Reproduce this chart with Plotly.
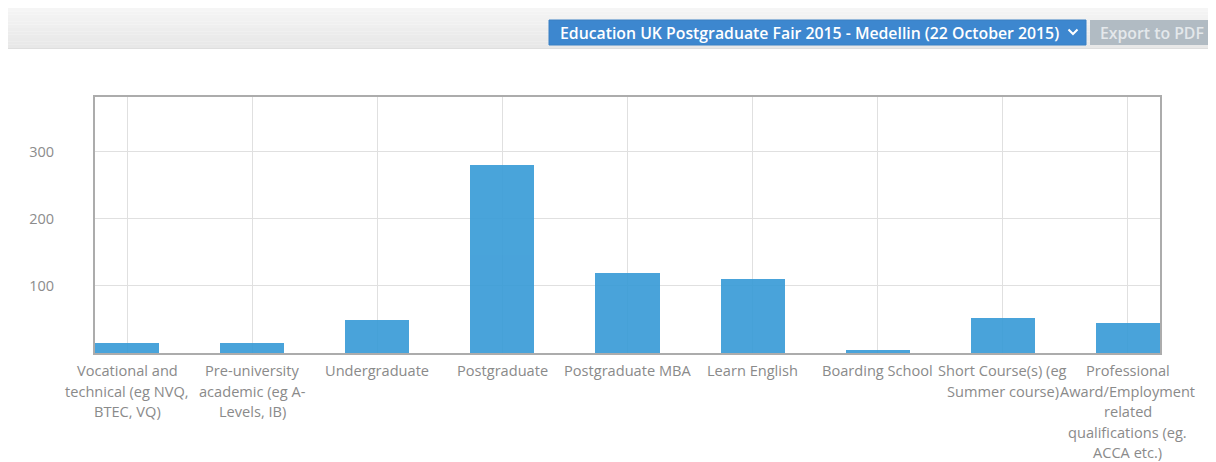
import plotly.graph_objects as go

categories = [
    "Vocational and<br>technical (eg NVQ,<br>BTEC, VQ)",
    "Pre-university<br>academic (eg A-<br>Levels, IB)",
    "Undergraduate",
    "Postgraduate",
    "Postgraduate MBA",
    "Learn English",
    "Boarding School",
    "Short Course(s) (eg<br>Summer course)",
    "Professional<br>Award/Employment<br>related<br>qualifications (eg.<br>ACCA etc.)",
]
values = [15, 15, 49, 280, 119, 110, 5, 52, 45]
y_ticks = [100, 200, 300]
dropdown_label = "Education UK Postgraduate Fair 2015 - Medellin (22 October 2015)"
export_label = "Export to PDF"

OFF = 8  # page body margin
W, H = 1216 - OFF, 462 - OFF
L, R, T, B = 95 - OFF, 1160 - OFF, 97 - OFF, 353 - OFF  # plot area in figure pixels


def px(x):
    return (x - OFF - L) / (R - L)


def py(y):
    return (B - (y - OFF)) / (B - T)


FONT = "Open Sans"
xs = list(range(len(categories)))

fig = go.Figure()
fig.add_trace(go.Bar(
    x=xs, y=values, width=0.512,
    marker=dict(color="#3a9cd7", line=dict(width=0)), opacity=0.92,
    hoverinfo="skip",
))

shapes = []
# header band gradient
top_c = (245, 245, 245)
bot_c = (232, 232, 232)
n = 12
y0, y1 = 8, 48
for i in range(n):
    a = y0 + (y1 - y0) * i / n
    b = y0 + (y1 - y0) * (i + 1) / n
    t = i / (n - 1)
    c = tuple(int(top_c[k] + (bot_c[k] - top_c[k]) * t) for k in range(3))
    shapes.append(dict(type="rect", xref="paper", yref="paper",
                       x0=px(7), x1=px(1216), y0=py(b), y1=py(a),
                       fillcolor="rgb(%d,%d,%d)" % c, line=dict(width=0), layer="below"))
shapes.append(dict(type="line", xref="paper", yref="paper", x0=px(7), x1=px(1216),
                   y0=py(48.5), y1=py(48.5), line=dict(color="#dedede", width=1)))
# dropdown button
shapes.append(dict(type="rect", xref="paper", yref="paper", x0=px(549), x1=px(1086),
                   y0=py(45), y1=py(20), fillcolor="#3d87cf", line=dict(color="#3a80c4", width=1)))
# chevron
cx, cy = 1073, 31.5
shapes.append(dict(type="path", xref="paper", yref="paper",
                   path="M %f %f L %f %f L %f %f" % (px(cx - 4.5), py(cy - 2), px(cx), py(cy + 2.5), px(cx + 4.5), py(cy - 2)),
                   line=dict(color="white", width=2)))
# export button
shapes.append(dict(type="rect", xref="paper", yref="paper", x0=px(1090), x1=px(1211),
                   y0=py(45), y1=py(20), fillcolor="#b1bbc3", line=dict(width=0)))

annotations = [
    dict(xref="paper", yref="paper", x=px(809.5), y=py(32.5), text=dropdown_label, showarrow=False,
         font=dict(family=FONT, size=15.8, color="white", weight=600), xanchor="center", yanchor="middle"),
    dict(xref="paper", yref="paper", x=px(1152), y=py(32.5), text=export_label, showarrow=False,
         font=dict(family=FONT, size=15.8, color="#e4e8eb", weight=600), xanchor="center", yanchor="middle"),
]
# category labels, one annotation per line for spacing control
for i, lab in enumerate(categories):
    for k, line in enumerate(lab.split("<br>")):
        annotations.append(dict(xref="x", yref="paper", x=i, y=0, yshift=-(17 + 20.6 * k),
                                text=line, showarrow=False, xanchor="center", yanchor="middle",
                                font=dict(family=FONT, size=14.6, color="#8a8a8a")))

fig.update_layout(
    width=W, height=H,
    margin=dict(l=L, r=W - R, t=T, b=H - B, pad=0),
    paper_bgcolor="white", plot_bgcolor="white",
    showlegend=False, bargap=0,
    shapes=shapes, annotations=annotations,
    font=dict(family=FONT),
)
fig.update_xaxes(
    range=[-0.256, len(categories) - 1 + 0.256], tickvals=xs, showticklabels=False,
    showgrid=True, gridcolor="#e0e0e0", gridwidth=1, zeroline=False,
    showline=True, mirror=True, linecolor="#acacac", linewidth=2, ticks="",
)
fig.update_yaxes(
    range=[0, 382], tickvals=y_ticks, ticktext=[str(v) for v in y_ticks],
    showgrid=True, gridcolor="#e0e0e0", gridwidth=1, zeroline=False,
    showline=True, mirror=True, linecolor="#acacac", linewidth=2, ticks="",
    tickfont=dict(family=FONT, size=14.5, color="#8c8c8c"), ticklabelstandoff=36,
)

fig.write_html("out.html")
